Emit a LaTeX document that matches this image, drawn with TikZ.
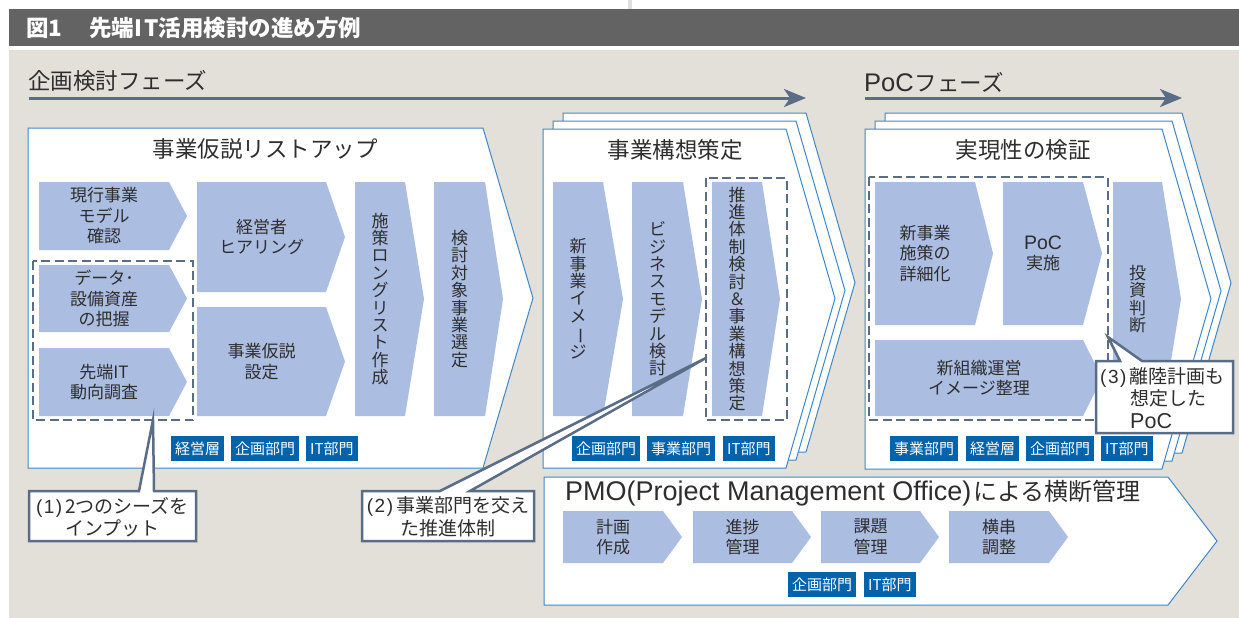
\documentclass[tikz,border=0pt]{standalone}
\usepackage{fontspec}
\usepackage{graphicx}
\setmainfont{Noto Sans CJK JP}
\newfontfamily\lat{Liberation Sans}
\usetikzlibrary{arrows.meta}
\definecolor{bggray}{HTML}{E3E0DA}
\definecolor{titlegray}{HTML}{636363}
\definecolor{slate}{HTML}{5A6D87}
\definecolor{chevfill}{HTML}{ABBDE1}
\definecolor{boxblue}{HTML}{3D87C8}
\definecolor{tagblue}{HTML}{0063AC}
\definecolor{txt}{HTML}{2E2E2E}
\newcommand\vbar{\rotatebox[origin=c]{-90}{ー}}
\newcommand\pn[1]{{\lat(\kern1.5pt#1\kern1.5pt)}\kern3pt}
\newcommand\penta[6]{%
  \draw[#1] (#2,#3) -- (#4,#3) -- (#6,{(#3+#5)/2}) -- (#4,#5) -- (#2,#5) -- cycle;}
\newcommand\chv[6]{%
  \fill[chev] (#2,#3) -- (#4,#3) -- (#6,{(#3+#5)/2}) -- (#4,#5) -- (#2,#5) -- cycle;
  \coordinate (#1) at ({(#2+#4)/2},{(#3+#5)/2});}
\tikzset{
  box/.style={draw=boxblue, line width=1pt, fill=white, line join=miter},
  chev/.style={fill=chevfill},
  dashbox/.style={draw=slate, line width=2.5pt, dash pattern=on 9pt off 4.5pt},
  callout/.style={draw=slate, line width=2.5pt, fill=white, line join=miter},
  tag/.style={fill=tagblue, text=white, font=\fontsize{15}{15}\selectfont, inner xsep=4pt, inner ysep=0pt, minimum height=25pt, anchor=west},
  ctext/.style={text=txt, font=\fontsize{17}{20.5}\selectfont, align=center, inner sep=0pt},
  vtext/.style={text=txt, font=\fontsize{17}{17.4}\selectfont, align=center, inner sep=0pt},
  boxtitle/.style={text=txt, font=\fontsize{22.5}{24}\selectfont, inner sep=0pt},
  calltext/.style={text=txt, font=\fontsize{19}{22.5}\selectfont, inner sep=0pt},
  phase/.style={draw=slate, line width=3pt, -{Stealth[length=22pt,width=18pt,inset=6pt]}},
}
\begin{document}
\begin{tikzpicture}[x=1pt,y=-1pt]
\useasboundingbox (0,0) rectangle (1239,618);
% background
\fill[white] (0,0) rectangle (1239,618);
\fill[gray!25] (628,0) rectangle (632,9);
\fill[titlegray] (9,9) rectangle (1239,46.5);
\fill[bggray] (9,50) rectangle (1239,618);
\node[anchor=west, text=white, font=\fontsize{22.5}{24}\selectfont\bfseries, inner sep=0pt] (title) at (26,28) {図1\hspace{27pt}先端I\kern2pt T活用検討の進め方例};

% phase labels and arrows
\node[anchor=west, text=txt, font=\fontsize{22.5}{24}\selectfont, inner sep=0pt] (ph1) at (28,81) {企画検討フェーズ};
\coordinate (a1s) at (29,98);
\coordinate (a1e) at (806,98);
\draw[phase] (a1s) -- (a1e);
\node[anchor=base west, text=txt, font=\fontsize{22.5}{24}\selectfont, inner sep=0pt] (ph2) at (864,91) {{\lat\fontsize{25.5}{26}\selectfont PoC}\kern1pt フェーズ};
\coordinate (a2s) at (865,98);
\coordinate (a2e) at (1182,98);
\draw[phase] (a2s) -- (a2e);

% ===== Box 1 =====
\penta{box}{28}{128}{483}{468}{533}
\node[boxtitle] (t1) at (265,149) {事業仮説リストアップ};
\chv{c11}{39}{182}{169}{250}{187}
\chv{c12}{39}{265}{169}{332}{187}
\chv{c13}{39}{348}{169}{416}{187}
\chv{c14}{197}{182}{326}{292}{345}
\chv{c15}{197}{307}{326}{416}{345}
\chv{c16}{355}{182}{405}{416}{424}
\chv{c17}{434}{182}{485}{416}{503}
\node[ctext] (n11) at (c11) {現行事業\\モデル\\確認};
\node[ctext] (n12) at (c12) {データ･\\設備資産\\の把握};
\node[ctext] (n13) at (c13) {先端IT\\動向調査};
\node[ctext] (n14) at (c14) {経営者\\ヒアリング};
\node[ctext] (n15) at (c15) {事業仮説\\設定};
\node[vtext] (n16) at (c16) {施\\策\\ロ\\ン\\グ\\リ\\ス\\ト\\作\\成};
\node[vtext] (n17) at (c17) {検\\討\\対\\象\\事\\業\\選\\定};
\draw[dashbox] (33,261) rectangle (193,420);
\node[tag] (g11) at (171,448.5) {経営層};
\node[tag] (g12) at (231,448.5) {企画部門};
\node[tag] (g13) at (306,448.5) {IT部門};

% ===== Box 2 =====
\penta{box}{563}{113}{806}{452}{855}
\penta{box}{553}{121}{796}{460}{845}
\penta{box}{543}{129}{786}{468}{835}
\node[boxtitle] (t2) at (675,150) {事業構想策定};
\chv{c21}{553}{182}{603}{416}{623}
\chv{c22}{632}{182}{683}{416}{702}
\chv{c23}{712}{182}{762}{416}{780}
\node[vtext] (n21) at (c21) {新\\事\\業\\イ\\メ\\\vbar\\ジ};
\node[vtext] (n22) at (c22) {ビ\\ジ\\ネ\\ス\\モ\\デ\\ル\\検\\討};
\node[vtext] (n23) at (c23) {推\\進\\体\\制\\検\\討\\＆\\事\\業\\構\\想\\策\\定};
\draw[dashbox] (706,178) rectangle (787,420);
\node[tag] (g21) at (572,448.5) {企画部門};
\node[tag] (g22) at (647,448.5) {事業部門};
\node[tag] (g23) at (723,448.5) {IT部門};

% ===== Box 3 =====
\penta{box}{885}{113}{1182}{453}{1231}
\penta{box}{875}{121}{1172}{461}{1221}
\penta{box}{865}{129}{1162}{469}{1211}
\node[boxtitle] (t3) at (1023,150) {実現性の検証};
\chv{c31}{875}{182}{975}{325}{993}
\chv{c32}{1003}{182}{1083}{325}{1102}
\chv{c33}{875}{340}{1083}{416}{1102}
\chv{c34}{1113}{182}{1162}{416}{1181}
\node[ctext] (n31) at (c31) {新事業\\施策の\\詳細化};
\node[ctext] (n32) at (c32) {{\lat\fontsize{19.5}{20}\selectfont PoC}\\実施};
\node[ctext] (n33) at (c33) {新組織運営\\イメージ整理};
\node[vtext] (n34) at (c34) {投\\資\\判\\断};
\draw[dashbox] (869,177) rectangle (1108,420);
\node[tag] (g31) at (890,448.5) {事業部門};
\node[tag] (g32) at (966,448.5) {経営層};
\node[tag] (g33) at (1026,448.5) {企画部門};
\node[tag] (g34) at (1101,448.5) {IT部門};

% ===== PMO =====
\penta{box}{544}{477}{1168}{605}{1217}
\node[anchor=base west, text=txt, inner sep=0pt, font=\fontsize{24}{26}\selectfont] (t4) at (565,500) {{\lat\fontsize{27}{28}\selectfont PMO(Project Management Office)}\kern2pt による横断管理};
\chv{p1}{563}{511}{663}{563}{682}
\chv{p2}{693}{511}{792}{563}{811}
\chv{p3}{821}{511}{920}{563}{939}
\chv{p4}{949}{511}{1049}{563}{1068}
\node[ctext] (q1) at (p1) {計画\\作成};
\node[ctext] (q2) at (p2) {進捗\\管理};
\node[ctext] (q3) at (p3) {課題\\管理};
\node[ctext] (q4) at (p4) {横串\\調整};
\node[tag] (g41) at (788,584.5) {企画部門};
\node[tag] (g42) at (864,584.5) {IT部門};

% ===== Callouts =====
\coordinate (k1) at (153,420);
\draw[callout] (29,491) -- (139,491) -- (k1) -- (154,491) -- (196,491) -- (196,541) -- (29,541) -- cycle;
\node[calltext, align=center] (m1) at (112.5,517) {\pn{1}2つのシーズを\\インプット};
\coordinate (k2) at (706,358);
\draw[callout] (362,491) -- (440,491) -- (k2) -- (470,491) -- (534,491) -- (534,541) -- (362,541) -- cycle;
\node[calltext, align=center] (m2) at (448,517) {\pn{2}事業部門を交え\\た推進体制};
\coordinate (k3) at (1108,337);
\draw[callout] (1096,361) -- (1120,361) -- (k3) -- (1142,361) -- (1233,361) -- (1233,433) -- (1096,433) -- cycle;
\node[calltext, align=left, anchor=west] (m3) at (1100,398) {\pn{3}離陸計画も\\\hspace*{30pt}想定した\\\hspace*{30pt}{\lat\fontsize{21.5}{22}\selectfont PoC}};
\end{tikzpicture}
\end{document}
